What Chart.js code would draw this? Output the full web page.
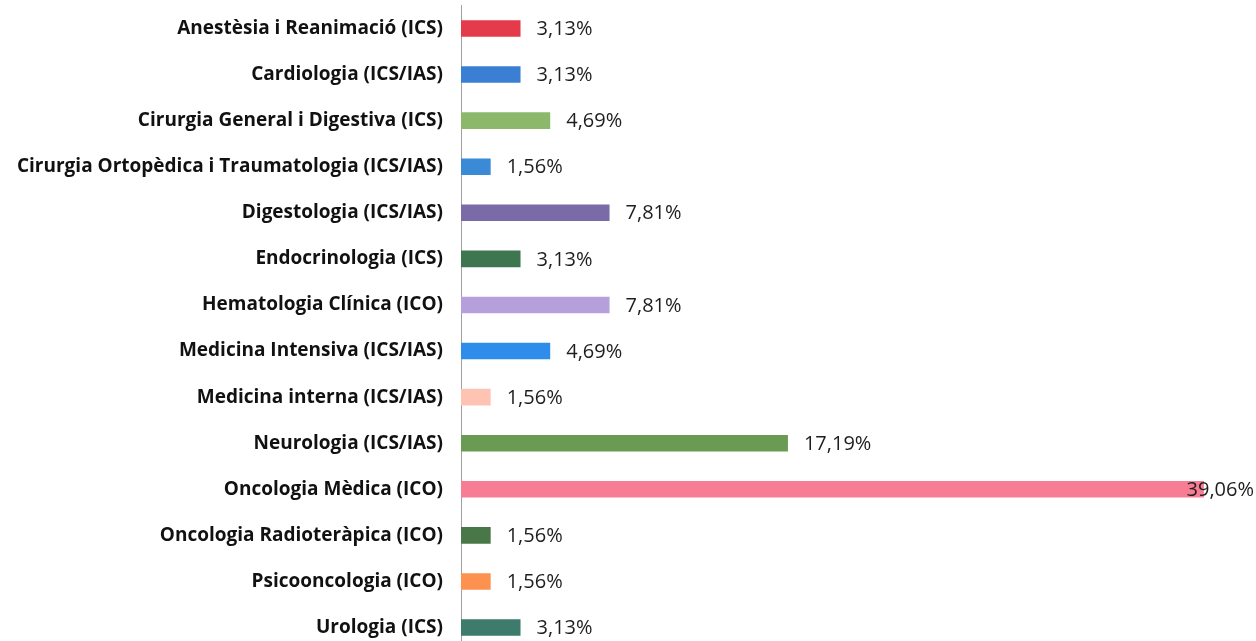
<!DOCTYPE html>
<html>
<head>
<meta charset="utf-8">
<script src="https://cdn.jsdelivr.net/npm/chart.js@4"></script>
<style>
  html, body { margin: 0; padding: 0; background: #fff; overflow: hidden; }
  canvas { display: block; margin-top: -24px; }
</style>
</head>
<body>
<canvas id="chart" width="1256" height="704"></canvas>
<script>
// ---------- Data ----------
const categories = [
    "Anestèsia i Reanimació (ICS)",
    "Cardiologia (ICS/IAS)",
    "Cirurgia General i Digestiva (ICS)",
    "Cirurgia Ortopèdica i Traumatologia (ICS/IAS)",
    "Digestologia (ICS/IAS)",
    "Endocrinologia (ICS)",
    "Hematologia Clínica (ICO)",
    "Medicina Intensiva (ICS/IAS)",
    "Medicina interna (ICS/IAS)",
    "Neurologia (ICS/IAS)",
    "Oncologia Mèdica (ICO)",
    "Oncologia Radioteràpica (ICO)",
    "Psicooncologia (ICO)",
    "Urologia (ICS)"
];
const percentages = [3.13, 3.13, 4.69, 1.56, 7.81, 3.13, 7.81, 4.69, 1.56, 17.19, 39.06, 1.56, 1.56, 3.13];
const barColors = [
    "#e53a4b", "#3a7fd3", "#8cb86c", "#3a8ad6", "#7a6aa8", "#3e7650", "#b6a0dc",
    "#2f8cea", "#ffc3b4", "#6b9a52", "#f77d95", "#4a7747", "#fd914f", "#3d7c6c"
];

// ---------- Value labels at the end of each bar ----------
const valueLabels = {
    id: 'valueLabels',
    afterDatasetsDraw(chart) {
        const ctx = chart.ctx;
        const meta = chart.getDatasetMeta(0);
        ctx.save();
        ctx.font = '20px "Open Sans", sans-serif';
        ctx.fillStyle = '#1e1e1e';
        ctx.textBaseline = 'middle';
        meta.data.forEach((bar, i) => {
            const text = percentages[i].toFixed(2).replace('.', ',') + '%';
            const w = ctx.measureText(text).width;
            let x = bar.x + 16;
            if (x + w > chart.width - 2) x = chart.width - 2 - w;
            ctx.fillText(text, x, bar.y + 1);
        });
        ctx.restore();
    }
};

new Chart(document.getElementById('chart').getContext('2d'), {
    type: 'bar',
    data: {
        labels: categories,
        datasets: [{
            data: percentages,
            backgroundColor: barColors,
            borderWidth: 0,
            categoryPercentage: 0.36,
            barPercentage: 1
        }]
    },
    options: {
        indexAxis: 'y',
        responsive: false,
        animation: false,
        layout: { padding: { top: 0, right: 0, bottom: 3, left: 0 } },
        plugins: {
            legend: { display: false },
            tooltip: { enabled: false }
        },
        scales: {
            x: {
                min: 0,
                max: 41.8,
                display: false
            },
            y: {
                afterFit: scale => { scale.width = 461; },
                grid: { display: false, drawTicks: false },
                border: { display: true, color: '#a0a0a0', width: 1 },
                ticks: {
                    color: '#111',
                    padding: 18,
                    font: { family: 'Open Sans', weight: 'bold', size: 19 }
                }
            }
        }
    },
    plugins: [valueLabels]
});
</script>
</body>
</html>
